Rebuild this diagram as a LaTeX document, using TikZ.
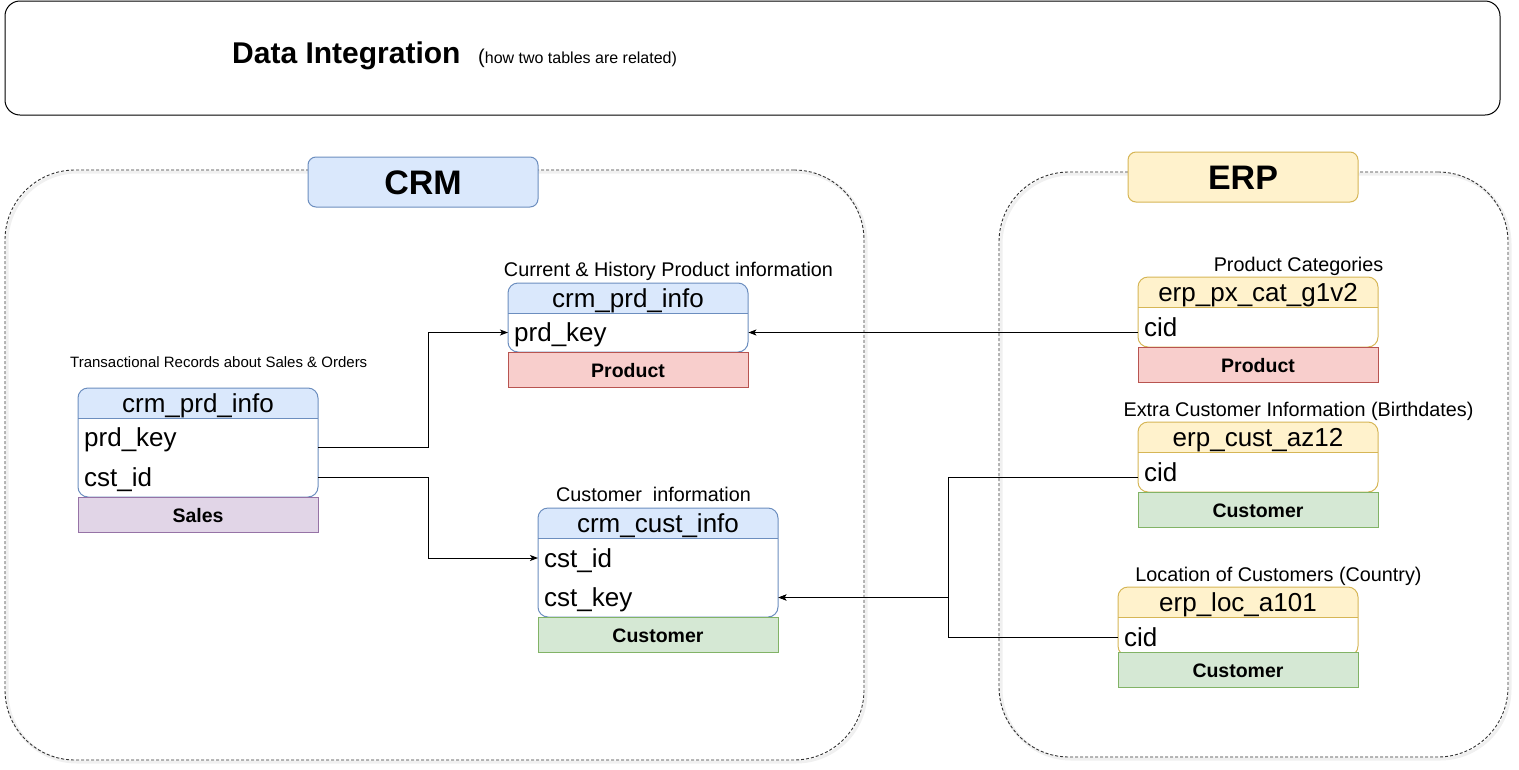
\documentclass[tikz,border=0pt]{standalone}
\usepackage{fontspec}
\setmainfont{Liberation Sans}
\usetikzlibrary{arrows.meta}

\definecolor{bluefill}{HTML}{DAE8FC}\definecolor{blueline}{HTML}{6C8EBF}
\definecolor{yelfill}{HTML}{FFF2CC}\definecolor{yelline}{HTML}{D6B656}
\definecolor{redfill}{HTML}{F8CECC}\definecolor{redline}{HTML}{B85450}
\definecolor{grnfill}{HTML}{D5E8D4}\definecolor{grnline}{HTML}{82B366}
\definecolor{purfill}{HTML}{E1D5E7}\definecolor{purline}{HTML}{9673A6}

\newcommand\tabfont{\fontsize{26}{30}\selectfont}
\newcommand\capfont{\fontsize{19.8}{23}\selectfont}
\newcommand\tagfont{\fontsize{19.5}{23}\selectfont}

% database table: #1 name, #2 left x, #3 top, #4 header bottom, #5 bottom,
% #6 colour prefix, #7 title
\newcommand\dbtable[7]{%
  \begin{scope}
    \clip[rounded corners=10pt] (#2,#3) rectangle ++(240,{#5-#3});
    \fill[white] (#2,#3) rectangle ++(240,{#5-#3});
    \fill[#6fill] (#2,#3) rectangle ++(240,{#4-#3});
  \end{scope}
  \draw[#6line, line width=1pt, rounded corners=10pt] (#2,#3) rectangle ++(240,{#5-#3});
  \draw[#6line, line width=1pt] (#2,#4) -- ++(240,0);
  \node[hdrtext] (#1) at ({#2+120},{(#3+#4)/2}) {#7};
}

\tikzset{
  hdrtext/.style={inner sep=0pt, font=\tabfont, text height=18pt, text depth=0pt},
  rowtext/.style={anchor=west, inner xsep=6pt, inner ysep=0pt, minimum height=40pt,
    text width=228pt, align=left, font=\tabfont, text height=18pt, text depth=0pt},
  tag/.style={line width=1pt, minimum width=240pt, minimum height=35pt, inner sep=0pt,
    font=\bfseries\tagfont, text height=16pt, text depth=0pt},
  caption/.style={anchor=base, inner sep=0pt, font=\capfont},
  grouplabel/.style={rounded corners=8pt, line width=1pt, minimum width=230pt,
    minimum height=50pt, inner sep=0pt, font=\bfseries\fontsize{34}{40}\selectfont,
    text height=24pt, text depth=0pt},
  area/.style={draw=black!80, line width=0.9pt, dash pattern=on 3pt off 2pt,
    rounded corners=70pt, inner sep=0pt},
  areashadow/.style={draw=black!6, line width=3pt, rounded corners=70pt},
  conn/.style={draw=black, line width=1pt, -{Stealth[length=8pt,width=6pt,inset=2pt]}},
}

\begin{document}
\begin{tikzpicture}[x=1pt,y=-1pt]
\useasboundingbox (0,0) rectangle (1519,769);
\fill[white] (0,0) rectangle (1519,769);

% heading frame
\node[draw, line width=1pt, rounded corners=15pt, minimum width=1495pt,
      minimum height=114pt, inner sep=0pt] (frame) at (752.5,58) {};
\node[anchor=base west, inner sep=0pt, font=\bfseries\fontsize{30}{36}\selectfont]
  (heading) at (232,63) {Data Integration};
\node[anchor=base west, inner sep=0pt, font=\fontsize{16}{19}\selectfont]
  (subheading) at (478,63) {{\fontsize{20}{24}\selectfont(}how two tables are related)};

% source system areas
\draw[areashadow] (7,172) rectangle (866,762);
\draw[areashadow] (1001,174) rectangle (1510,759);
\node[area, minimum width=859pt, minimum height=590pt] (crmarea) at (434.5,465) {};
\node[area, minimum width=509pt, minimum height=585pt] (erparea) at (1253.5,464.5) {};
\node[grouplabel, fill=bluefill, draw=blueline] (crm) at (423,182) {CRM};
\node[grouplabel, fill=yelfill, draw=yelline] (erp) at (1243,177) {ERP};

% CRM: sales details
\node[anchor=base west, inner sep=0pt, font=\fontsize{15}{18}\selectfont]
  (salescap) at (70,367) {Transactional Records about Sales \& Orders};
\dbtable{sales}{78}{388}{418}{497}{blue}{crm\_prd\_info}
\node[rowtext] (srow1) at (78,437.5) {prd\_key};
\node[rowtext] (srow2) at (78,477) {cst\_id};
\node[tag, fill=purfill, draw=purline] (salestag) at (198,514.5) {Sales};

% CRM: product information
\node[caption] (prdcap) at (668.5,276) {Current \& History Product information};
\dbtable{prd}{508}{283}{313}{352}{blue}{crm\_prd\_info}
\node[rowtext] (prow1) at (508,332.5) {prd\_key};
\node[tag, fill=redfill, draw=redline] (prdtag) at (628,369.5) {Product};

% CRM: customer information
\node[caption] (custcap) at (653.5,501) {Customer\ \ information};
\dbtable{cust}{538}{508}{538}{617}{blue}{crm\_cust\_info}
\node[rowtext] (crow1) at (538,558) {cst\_id};
\node[rowtext] (crow2) at (538,597.5) {cst\_key};
\node[tag, fill=grnfill, draw=grnline] (custtag) at (658,634.5) {Customer};

% ERP: product categories
\node[caption] (pxcap) at (1298.5,271) {Product Categories};
\dbtable{pxcat}{1138}{277}{307}{347}{yel}{erp\_px\_cat\_g1v2}
\node[rowtext] (xrow1) at (1138,327) {cid};
\node[tag, fill=redfill, draw=redline] (pxtag) at (1258,364.5) {Product};

% ERP: customer birthdates
\node[caption] (azcap) at (1298.5,416) {Extra Customer Information (Birthdates)};
\dbtable{az}{1138}{422}{452}{492}{yel}{erp\_cust\_az12}
\node[rowtext] (arow1) at (1138,472) {cid};
\node[tag, fill=grnfill, draw=grnline] (aztag) at (1258,509.5) {Customer};

% ERP: customer locations
\node[caption] (loccap) at (1278.5,581) {Location of Customers (Country)};
\dbtable{loc}{1118}{587}{617}{656}{yel}{erp\_loc\_a101}
\node[rowtext] (lrow1) at (1118,637) {cid};
\node[tag, fill=grnfill, draw=grnline] (loctag) at (1238,669.5) {Customer};

% relations
\draw[conn] ([yshift=-9.5pt]srow1.east) -- ++(110,0) |- (prow1.west);
\draw[conn] (srow2.east) -- ++(110,0) |- (crow1.west);
\draw[conn] (xrow1.west |- prow1.east) -- (prow1.east);
\draw[conn] ([yshift=-5pt]arow1.west) -- ++(-190,0) |- (crow2.east);
\draw[conn] (lrow1.west) -- ++(-170,0) |- (crow2.east);
\end{tikzpicture}
\end{document}
